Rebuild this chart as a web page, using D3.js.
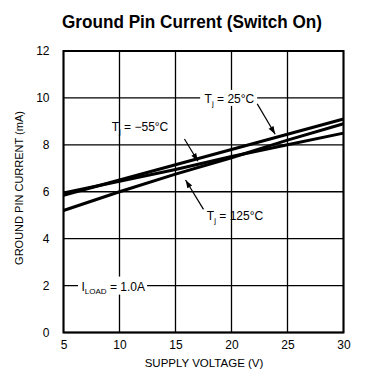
<!DOCTYPE html>
<html>
<head>
<meta charset="utf-8">
<script src="https://cdn.jsdelivr.net/npm/d3@7"></script>
<style>
  body { margin: 0; background: #fff; }
  text { font-family: "Liberation Sans", Arial, sans-serif; fill: #000; }
</style>
</head>
<body>
<div id="chart"></div>
<script>
// Chart data
var voltage = [5, 10, 15, 20, 25, 30];
var iMinus55 = [5.95, 6.45, 6.95, 7.5, 8.0, 8.5];
var i25 = [5.85, 6.5, 7.15, 7.8, 8.45, 9.1];
var i125 = [5.2, 6.0, 6.75, 7.45, 8.2, 8.9];
var xTicks = [5, 10, 15, 20, 25, 30];
var yTicks = [0, 2, 4, 6, 8, 10, 12];

var svgWidth = 366;
var svgHeight = 376;
var margin = { top: 51, right: 22, bottom: 43, left: 63.5 };
var width = 343.5 - margin.left;
var height = 332.5 - margin.top;

var svg = d3.select("#chart").append("svg")
  .attr("width", svgWidth)
  .attr("height", svgHeight);

// title (condensed bold)
svg.append("text")
  .attr("x", 62)
  .attr("y", 28)
  .attr("textLength", 260)
  .attr("lengthAdjust", "spacingAndGlyphs")
  .style("font-size", "19px")
  .style("font-weight", "bold")
  .text("Ground Pin Current (Switch On)");

var chartGroup = svg.append("g")
  .attr("transform", `translate(${margin.left}, ${margin.top})`);

var xScale = d3.scaleLinear().domain([5, 30]).range([0, width]);
var yScale = d3.scaleLinear().domain([0, 12]).range([height, 0]);

// grid
chartGroup.append("g")
  .selectAll("line")
  .data(xTicks)
  .enter()
  .append("line")
  .attr("x1", d => xScale(d)).attr("x2", d => xScale(d))
  .attr("y1", 0).attr("y2", height)
  .attr("stroke", "#000").attr("stroke-width", 1.3);

chartGroup.append("g")
  .selectAll("line")
  .data(yTicks)
  .enter()
  .append("line")
  .attr("x1", 0).attr("x2", width)
  .attr("y1", d => yScale(d)).attr("y2", d => yScale(d))
  .attr("stroke", "#000").attr("stroke-width", 1.3);

// axes (labels only)
var bottomAxis = d3.axisBottom(xScale).tickValues(xTicks).tickSize(0).tickPadding(8);
var leftAxis = d3.axisLeft(yScale).tickValues(yTicks).tickSize(0).tickPadding(14);

var xAxis = chartGroup.append("g")
  .attr("transform", `translate(0, ${height})`)
  .call(bottomAxis);
var yAxis = chartGroup.append("g").call(leftAxis);

[xAxis, yAxis].forEach(function(ax) {
  ax.select(".domain").remove();
  ax.selectAll("text")
    .style("font-size", "12px")
    .style("font-family", "'Liberation Sans', Arial, sans-serif")
    .attr("fill", "#000");
});

// frame
chartGroup.append("rect")
  .attr("x", 0).attr("y", 0)
  .attr("width", width).attr("height", height)
  .attr("fill", "none")
  .attr("stroke", "#000")
  .attr("stroke-width", 2);

// curves
var line = d3.line()
  .x((d, i) => xScale(voltage[i]))
  .y(d => yScale(d));

[iMinus55, i25, i125].forEach(function(series) {
  chartGroup.append("path")
    .datum(series)
    .attr("d", line)
    .attr("fill", "none")
    .attr("stroke", "#000")
    .attr("stroke-width", 3);
});

// annotation labels
function tjLabel(x, y, temp) {
  var t = chartGroup.append("text")
    .attr("x", x).attr("y", y)
    .style("font-size", "12px");
  t.append("tspan").text("T");
  t.append("tspan").attr("dy", 3).style("font-size", "8px").text("j");
  t.append("tspan").attr("dy", -3).text(" = " + temp);
  return t;
}

function arrow(x1, y1, x2, y2) {
  chartGroup.append("line")
    .attr("x1", x1).attr("y1", y1).attr("x2", x2).attr("y2", y2)
    .attr("stroke", "#000").attr("stroke-width", 1.2);
  var ang = Math.atan2(y2 - y1, x2 - x1);
  var len = 8, w = 2.8;
  var bx = x2 - len * Math.cos(ang), by = y2 - len * Math.sin(ang);
  chartGroup.append("path")
    .attr("d", `M${x2},${y2}L${bx - w * Math.sin(ang)},${by + w * Math.cos(ang)}L${bx + w * Math.sin(ang)},${by - w * Math.cos(ang)}Z`)
    .attr("fill", "#000");
}

// 25 C label sits on the 10 mA gridline
chartGroup.append("rect")
  .attr("x", xScale(17.2)).attr("y", yScale(10) - 8)
  .attr("width", 57).attr("height", 16)
  .attr("fill", "#fff");
tjLabel(xScale(17.6), yScale(10) + 5, "25°C");
arrow(xScale(22.3), yScale(10) + 6, xScale(23.9), yScale(8.45));

// -55 C label
tjLabel(xScale(9.3), yScale(8.6), "−55°C");
arrow(xScale(15.8), yScale(8.25), xScale(17.0), yScale(7.3));

// 125 C label
tjLabel(xScale(17.8), yScale(4.8), "125°C");
arrow(xScale(17.5), yScale(5.25), xScale(15.9), yScale(6.5));

// load label on the 2 mA gridline
chartGroup.append("rect")
  .attr("x", xScale(6.3)).attr("y", yScale(2) - 9)
  .attr("width", 69).attr("height", 18)
  .attr("fill", "#fff");
var ld = chartGroup.append("text")
  .attr("x", xScale(6.6)).attr("y", yScale(2) + 5)
  .style("font-size", "12px");
ld.append("tspan").text("I");
ld.append("tspan").attr("dy", 3).style("font-size", "8px").text("LOAD");
ld.append("tspan").attr("dy", -3).text(" = 1.0A");

// axis titles
svg.append("text")
  .attr("x", 204)
  .attr("y", 367)
  .attr("text-anchor", "middle")
  .style("font-size", "11.5px")
  .text("SUPPLY VOLTAGE (V)");

svg.append("text")
  .attr("transform", "rotate(-90)")
  .attr("x", -188)
  .attr("y", 23)
  .attr("text-anchor", "middle")
  .style("font-size", "11px")
  .text("GROUND PIN CURRENT (mA)");
</script>
</body>
</html>
